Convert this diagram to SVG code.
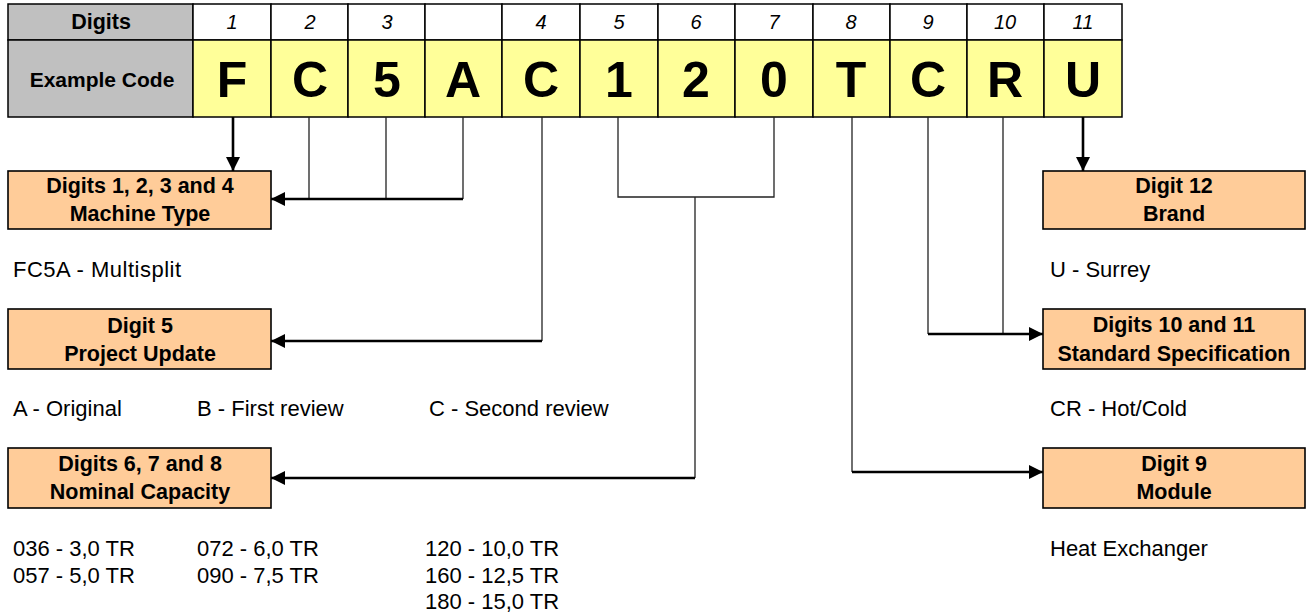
<svg xmlns="http://www.w3.org/2000/svg" width="1306" height="613" viewBox="0 0 1306 613">
  <style>
    .cell { stroke: #000; stroke-width: 1.5; }
    .hdr { fill: #c0c0c0; }
    .num { fill: #ffffff; }
    .code { fill: #ffff99; }
    .box { fill: #ffcc99; stroke: #000; stroke-width: 1.6; }
    .t { font-family: "Liberation Sans", Arial, sans-serif; fill: #000; }
    .bold { font-weight: bold; }
    .idx { font-size: 20px; font-style: italic; text-anchor: middle; }
    .big { font-size: 50px; font-weight: bold; text-anchor: middle; }
    .lbl { font-size: 21.5px; font-weight: bold; text-anchor: middle; }
    .note { font-size: 22px; }
    .thin { stroke: #222; stroke-width: 1.3; fill: none; }
    .thick { stroke: #000; stroke-width: 2.6; fill: none; }
  </style>
  <defs>
    <marker id="arrow" markerUnits="userSpaceOnUse" markerWidth="14" markerHeight="14" viewBox="0 0 14 14" refX="14" refY="7" orient="auto">
      <path d="M0,0 L14,7 L0,14 Z" fill="#000"/>
    </marker>
  </defs>

  <!-- code table -->
  <g id="code-table">
    <rect class="cell hdr" x="8" y="4" width="185" height="36"/>
    <rect class="cell hdr" x="8" y="40" width="185" height="77"/>
    <g id="index-row">
      <rect class="cell num" x="193" y="4" width="78" height="36"/>
      <rect class="cell num" x="271" y="4" width="77" height="36"/>
      <rect class="cell num" x="348" y="4" width="77" height="36"/>
      <rect class="cell num" x="425" y="4" width="77" height="36"/>
      <rect class="cell num" x="502" y="4" width="78" height="36"/>
      <rect class="cell num" x="580" y="4" width="78" height="36"/>
      <rect class="cell num" x="658" y="4" width="77" height="36"/>
      <rect class="cell num" x="735" y="4" width="78" height="36"/>
      <rect class="cell num" x="813" y="4" width="77" height="36"/>
      <rect class="cell num" x="890" y="4" width="77" height="36"/>
      <rect class="cell num" x="967" y="4" width="77" height="36"/>
      <rect class="cell num" x="1044" y="4" width="78" height="36"/>
    </g>
    <g id="code-row">
      <rect class="cell code" x="193" y="40" width="78" height="77"/>
      <rect class="cell code" x="271" y="40" width="77" height="77"/>
      <rect class="cell code" x="348" y="40" width="77" height="77"/>
      <rect class="cell code" x="425" y="40" width="77" height="77"/>
      <rect class="cell code" x="502" y="40" width="78" height="77"/>
      <rect class="cell code" x="580" y="40" width="78" height="77"/>
      <rect class="cell code" x="658" y="40" width="77" height="77"/>
      <rect class="cell code" x="735" y="40" width="78" height="77"/>
      <rect class="cell code" x="813" y="40" width="77" height="77"/>
      <rect class="cell code" x="890" y="40" width="77" height="77"/>
      <rect class="cell code" x="967" y="40" width="77" height="77"/>
      <rect class="cell code" x="1044" y="40" width="78" height="77"/>
    </g>
    <text class="t bold" x="101" y="29" font-size="21.5" text-anchor="middle">Digits</text>
    <text class="t bold" x="102" y="87" font-size="21" text-anchor="middle">Example Code</text>
    <g class="t idx">
      <text x="232" y="29">1</text>
      <text x="310" y="29">2</text>
      <text x="387" y="29">3</text>
      <text x="541" y="29">4</text>
      <text x="619" y="29">5</text>
      <text x="696" y="29">6</text>
      <text x="774" y="29">7</text>
      <text x="851" y="29">8</text>
      <text x="928" y="29">9</text>
      <text x="1005" y="29">10</text>
      <text x="1083" y="29">11</text>
    </g>
    <g class="t big">
      <text x="232" y="97">F</text>
      <text x="310" y="97">C</text>
      <text x="387" y="97">5</text>
      <text x="463" y="97">A</text>
      <text x="541" y="97">C</text>
      <text x="619" y="97">1</text>
      <text x="696" y="97">2</text>
      <text x="774" y="97">0</text>
      <text x="851" y="97">T</text>
      <text x="928" y="97">C</text>
      <text x="1005" y="97">R</text>
      <text x="1083" y="97">U</text>
    </g>
  </g>

  <!-- connectors -->
  <g id="connectors">
    <path class="thin" d="M309,117 V199 M386,117 V199 M463,117 V199"/>
    <path class="thick" d="M463,199 H271" marker-end="url(#arrow)"/>
    <path class="thick" d="M233,117 V171" marker-end="url(#arrow)"/>
    <path class="thin" d="M542,117 V341"/>
    <path class="thick" d="M542,341 H271" marker-end="url(#arrow)"/>
    <path class="thin" d="M618,117 V197 H774 V117 M695,197 V478"/>
    <path class="thick" d="M695,478 H271" marker-end="url(#arrow)"/>
    <path class="thin" d="M852,117 V472"/>
    <path class="thick" d="M852,472 H1043" marker-end="url(#arrow)"/>
    <path class="thin" d="M928,117 V334 M1003,117 V334"/>
    <path class="thick" d="M928,334 H1043" marker-end="url(#arrow)"/>
    <path class="thick" d="M1083,117 V171" marker-end="url(#arrow)"/>
  </g>

  <!-- description boxes -->
  <g id="machine-type">
    <rect class="box" x="8" y="171" width="263" height="58"/>
    <text class="t lbl" x="140" y="193">Digits 1, 2, 3 and 4</text>
    <text class="t lbl" x="140" y="221">Machine Type</text>
  </g>
  <g id="project-update">
    <rect class="box" x="8" y="309" width="263" height="60"/>
    <text class="t lbl" x="140" y="333">Digit 5</text>
    <text class="t lbl" x="140" y="361">Project Update</text>
  </g>
  <g id="nominal-capacity">
    <rect class="box" x="8" y="448" width="263" height="60"/>
    <text class="t lbl" x="140" y="471">Digits 6, 7 and 8</text>
    <text class="t lbl" x="140" y="499">Nominal Capacity</text>
  </g>
  <g id="brand">
    <rect class="box" x="1043" y="171" width="262" height="58"/>
    <text class="t lbl" x="1174" y="193">Digit 12</text>
    <text class="t lbl" x="1174" y="221">Brand</text>
  </g>
  <g id="standard-specification">
    <rect class="box" x="1043" y="309" width="262" height="60"/>
    <text class="t lbl" x="1174" y="332">Digits 10 and 11</text>
    <text class="t lbl" x="1174" y="361">Standard Specification</text>
  </g>
  <g id="module">
    <rect class="box" x="1043" y="448" width="262" height="60"/>
    <text class="t lbl" x="1174" y="471">Digit 9</text>
    <text class="t lbl" x="1174" y="499">Module</text>
  </g>

  <!-- option lists -->
  <g id="options" class="t note">
    <text x="13" y="277" textLength="168" lengthAdjust="spacing">FC5A - Multisplit</text>
    <text x="13" y="416">A - Original</text>
    <text x="197" y="416">B - First review</text>
    <text x="429" y="416">C - Second review</text>
    <text x="13" y="556">036 - 3,0 TR</text>
    <text x="13" y="583">057 - 5,0 TR</text>
    <text x="197" y="556">072 - 6,0 TR</text>
    <text x="197" y="583">090 - 7,5 TR</text>
    <text x="425" y="556">120 - 10,0 TR</text>
    <text x="425" y="583">160 - 12,5 TR</text>
    <text x="425" y="609">180 - 15,0 TR</text>
    <text x="1050" y="277">U - Surrey</text>
    <text x="1050" y="416">CR - Hot/Cold</text>
    <text x="1050" y="556">Heat Exchanger</text>
  </g>
</svg>
